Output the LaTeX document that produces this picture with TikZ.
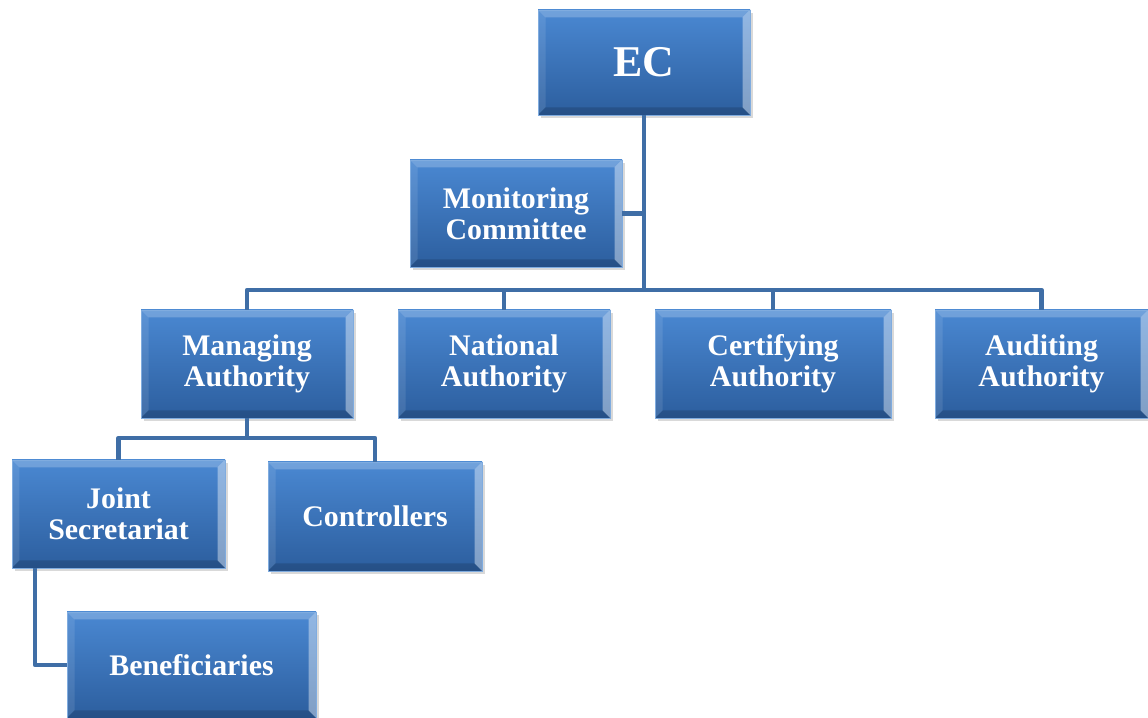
\documentclass[tikz,border=0pt]{standalone}
\usepackage{fontspec}
\setmainfont{Liberation Serif}
\usetikzlibrary{calc,shadows}

\definecolor{boxtop}{HTML}{4A88D2}
\definecolor{boxbottom}{HTML}{2C5E9E}
\definecolor{linkblue}{HTML}{3F6EA6}

\begin{document}
\begin{tikzpicture}[
    box/.style={rectangle, minimum width=4.24cm, minimum height=2.14cm, align=center,
        top color=boxtop, bottom color=boxbottom, draw=boxtop!70!white, line width=0.4pt,
        text=white, font=\bfseries\fontsize{17}{17.5}\selectfont,
        drop shadow={opacity=0.3, shadow xshift=0.06cm, shadow yshift=-0.06cm},
        path picture={
            % bevel: light top and right, darker bottom
            \fill[white, opacity=0.22] (path picture bounding box.north west) -- (path picture bounding box.north east)
                -- ($(path picture bounding box.north east)+(-0.15,-0.15)$) -- ($(path picture bounding box.north west)+(0.15,-0.15)$) -- cycle;
            \fill[white, opacity=0.4] (path picture bounding box.north east) -- (path picture bounding box.south east)
                -- ($(path picture bounding box.south east)+(-0.15,0.15)$) -- ($(path picture bounding box.north east)+(-0.15,-0.15)$) -- cycle;
            \fill[white, opacity=0.1] (path picture bounding box.north west) -- (path picture bounding box.south west)
                -- ($(path picture bounding box.south west)+(0.15,0.15)$) -- ($(path picture bounding box.north west)+(0.15,-0.15)$) -- cycle;
            \fill[black, opacity=0.15] (path picture bounding box.south west) -- (path picture bounding box.south east)
                -- ($(path picture bounding box.south east)+(-0.15,0.15)$) -- ($(path picture bounding box.south west)+(0.15,0.15)$) -- cycle;
        }},
    link/.style={draw=linkblue, line width=2.6pt, line join=round}
]

\useasboundingbox (0,0) rectangle (22.96,14.36);

% Top level
\node[box, minimum height=2.1cm, font=\bfseries\fontsize{25}{26}\selectfont] (ec) at (12.88,13.11) {EC};
\node[box] (monitor) at (10.32,10.09) {Monitoring\\Committee};

% Authorities
\node[box, minimum height=2.16cm] (managing) at (4.94,7.08) {Managing\\Authority};
\node[box, minimum height=2.16cm] (national) at (10.08,7.08) {National\\Authority};
\node[box, minimum height=2.16cm, minimum width=4.72cm] (certifying) at (15.46,7.08) {Certifying\\Authority};
\node[box, minimum height=2.16cm, minimum width=4.26cm] (auditing) at (20.83,7.08) {Auditing\\Authority};

% Below the managing authority
\node[box, minimum width=4.26cm, minimum height=2.16cm] (joint) at (2.37,4.08) {Joint\\Secretariat};
\node[box, minimum width=4.28cm, minimum height=2.18cm] (controllers) at (7.5,4.03) {Controllers};
\node[box, minimum width=4.98cm, minimum height=2.12cm] (benef) at (3.83,1.06) {Beneficiaries};

% Connections
\coordinate (bus) at (12.88,8.56);
\coordinate (subbus) at (4.94,5.6);
\coordinate (jsleft) at (0.7,0);

\draw[link] (ec.south) -- (bus);
\draw[link] (monitor.east) -- (monitor.east -| ec.south);
\draw[link] (managing.north) |- (bus) -| (auditing.north);
\draw[link] (national.north) -- (national.north |- bus);
\draw[link] (certifying.north) -- (certifying.north |- bus);
\draw[link] (managing.south) -- (subbus);
\draw[link] (joint.north) |- (subbus) -| (controllers.north);
\draw[link] (joint.south -| jsleft) |- (benef.west);

\end{tikzpicture}
\end{document}
